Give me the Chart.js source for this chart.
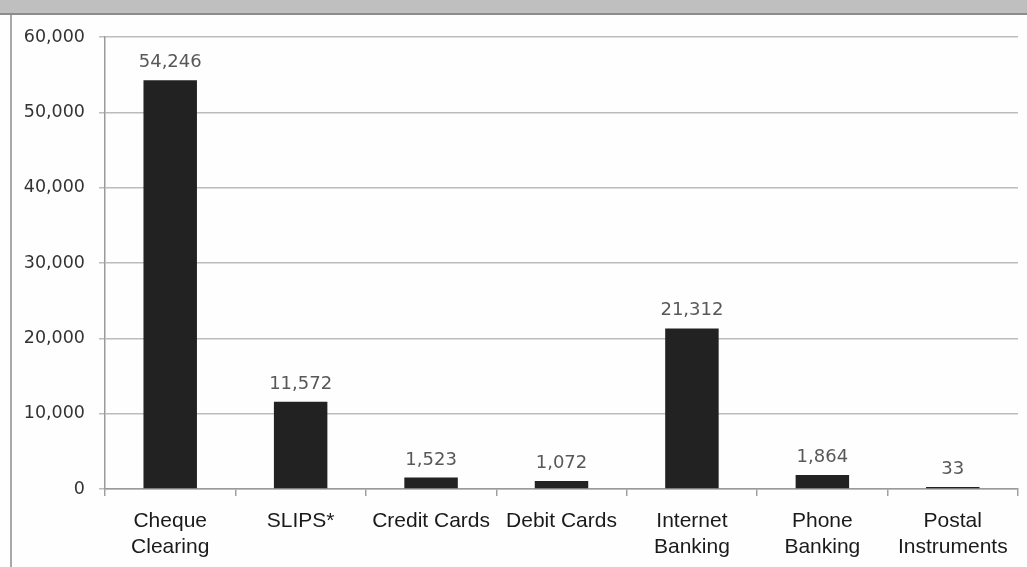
<!DOCTYPE html>
<html>
<head>
<meta charset="utf-8">
<script src="https://cdn.jsdelivr.net/npm/chart.js@4/dist/chart.umd.min.js"></script>
<style>
  html, body { margin: 0; padding: 0; background: #ffffff; }
  #wrap { position: relative; width: 1027px; height: 567px; overflow: hidden; background: #fefefe; }
  #band { position: absolute; left: 0; top: 0; width: 1027px; height: 13px; background: #bfbfbf; border-bottom: 2px solid #8c8c8c; }
  #edge { position: absolute; left: 10px; top: 15px; width: 2px; height: 552px; background: #a8a8a8; }
  #c { position: absolute; left: 0; top: 0; }
</style>
</head>
<body>
<div id="wrap">
  <canvas id="c" width="1027" height="567"></canvas>
  <div id="band"></div>
  <div id="edge"></div>
</div>
<script>
// Payment volumes by channel
const categories = [
  ["Cheque", "Clearing"],
  "SLIPS*",
  "Credit Cards",
  "Debit Cards",
  ["Internet", "Banking"],
  ["Phone", "Banking"],
  ["Postal", "Instruments"]
];
const values = [54246, 11572, 1523, 1072, 21312, 1864, 33];
const yTicks = [0, 10000, 20000, 30000, 40000, 50000, 60000];

const fmt = v => v.toLocaleString("en-US");

// Draws the value above each bar
const valueLabels = {
  id: "valueLabels",
  afterDatasetsDraw(chart) {
    const ctx = chart.ctx;
    const meta = chart.getDatasetMeta(0);
    ctx.save();
    ctx.font = "18px 'DejaVu Sans'";
    ctx.fillStyle = "#585858";
    ctx.textAlign = "center";
    ctx.textBaseline = "alphabetic";
    meta.data.forEach((bar, i) => {
      ctx.fillText(fmt(values[i]), bar.x, bar.y - 13);
    });
    ctx.restore();
  }
};

new Chart(document.getElementById("c"), {
  type: "bar",
  data: {
    labels: categories,
    datasets: [{
      data: values,
      backgroundColor: "#222222",
      borderWidth: 0,
      barPercentage: 0.41,
      categoryPercentage: 1,
      minBarLength: 2
    }]
  },
  options: {
    responsive: false,
    animation: false,
    layout: { padding: { left: 0, right: 9, top: 37, bottom: 0 } },
    plugins: { legend: { display: false }, tooltip: { enabled: false } },
    scales: {
      x: {
        offset: true,
        grid: { drawOnChartArea: false, offset: true, tickLength: 7, color: "#a0a0a0", lineWidth: 1.5 },
        border: { color: "#9a9a9a", width: 1.5 },
        ticks: {
          font: { family: "'Liberation Sans Narrow', 'Liberation Sans', sans-serif", size: 21, lineHeight: 1.2 },
          color: "#1a1a1a",
          padding: 13,
          maxRotation: 0,
          autoSkip: false
        },
        afterFit(scale) { scale.height = 78; }
      },
      y: {
        min: 0,
        max: 60000,
        afterBuildTicks(scale) { scale.ticks = yTicks.map(v => ({ value: v })); },
        grid: { color: "#bcbcbc", lineWidth: 1.5, tickLength: 6 },
        border: { color: "#9a9a9a", width: 1.5 },
        ticks: {
          font: { family: "'DejaVu Sans', sans-serif", size: 17.5 },
          color: "#333333",
          padding: 14,
          callback: v => fmt(v)
        },
        afterFit(scale) { scale.width = 105; }
      }
    }
  },
  plugins: [valueLabels]
});
</script>
</body>
</html>
